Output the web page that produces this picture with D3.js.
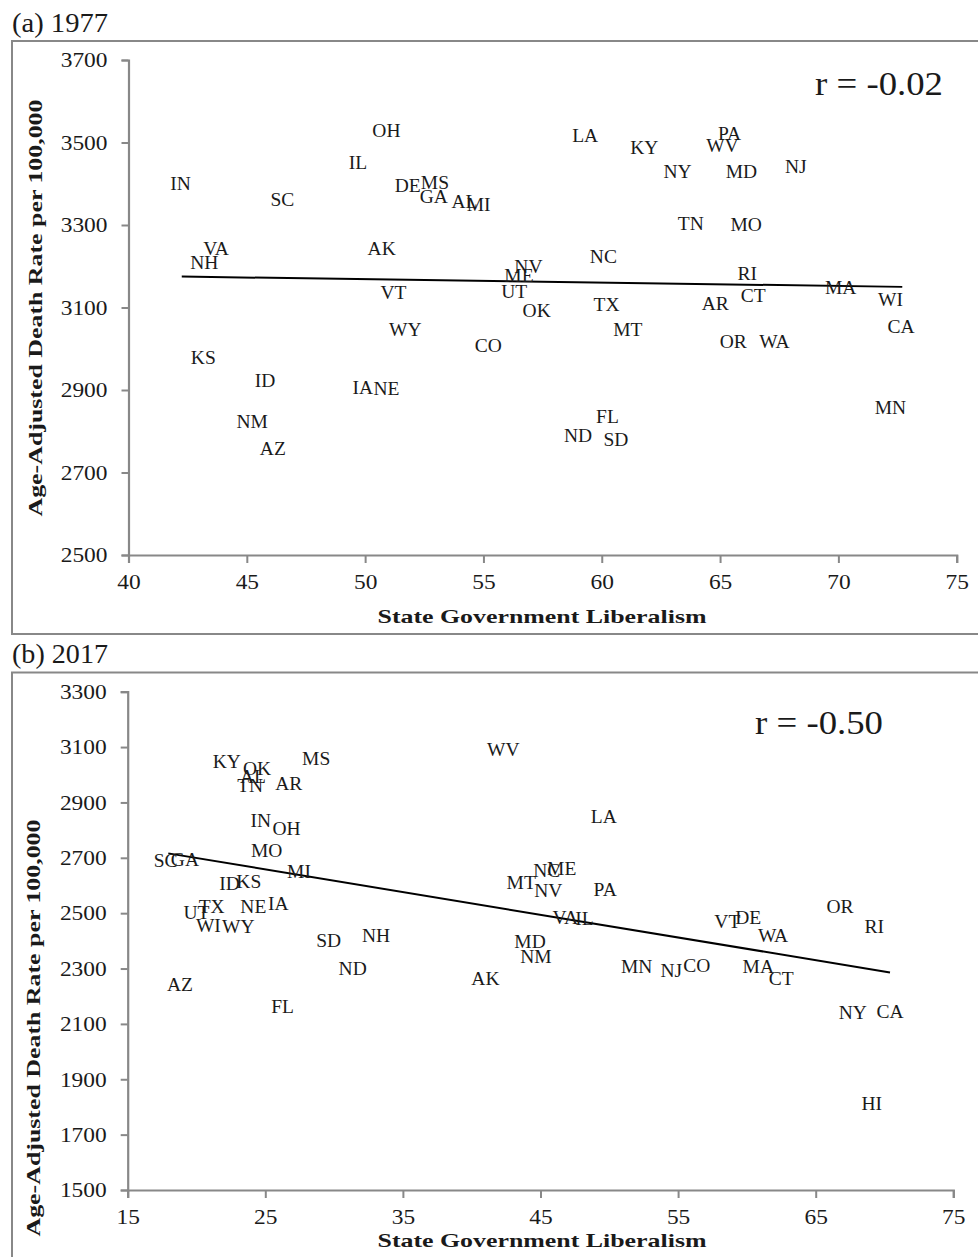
<!DOCTYPE html>
<html>
<head>
<meta charset="utf-8">
<script src="https://cdn.jsdelivr.net/npm/d3@7"></script>
<style>
  body { margin: 0; background: #fff; }
  svg { display: block; }
  text { font-family: "Liberation Serif", "Times New Roman", serif; fill: #1a1a1a; }
  .state { font-size: 19.5px; }
  .axis-title { font-size: 19.5px; font-weight: bold; }
</style>
</head>
<body>
<svg id="chart" width="978" height="1257"></svg>
<script>
// Panel (a) 1977
const states1977 = ['IN','SC','VA','NH','OH','IL','DE','MS','GA','AL','MI','AK','NV','ME','VT','UT','OK','WY','CO','IA','NE',
  'LA','NC','TX','MT','KY','PA','WV','NY','MD','NJ','TN','MO','RI','CT','AR','MA','WI','CA','OR','WA','KS','ID','NM','AZ','FL','ND','SD','MN'];
const liberalism1977 = [42.2,46.5,43.7,43.2,50.9,49.7,51.8,52.95,52.9,54.2,54.8,50.7,56.9,56.5,51.2,56.3,57.25,51.7,55.2,49.9,50.9,
  59.3,60.07,60.2,61.1,61.8,65.4,65.1,63.2,65.9,68.2,63.76,66.1,66.15,66.4,64.8,70.1,72.2,72.65,65.56,67.3,43.16,45.77,45.23,46.1,60.24,59.0,60.6,72.2];
const deaths1977 = [3402,3363,3244,3210,3530,3453,3395,3403,3370,3358,3350,3243,3199,3179,3136,3138,3092,3047,3007,2906,2904,
  3518,3223,3108,3047,3487,3522,3492,3431,3431,3443,3304,3302,3183,3130,3110,3150,3120,3055,3017,3019,2978,2923,2823,2759,2835,2791,2780,2857];
const trend1977 = [[42.25, 3175], [72.7, 3150]];
const xTicks1977 = [40,45,50,55,60,65,70,75];
const yTicks1977 = [2500,2700,2900,3100,3300,3500,3700];

// Panel (b) 2017
const states2017 = ['KY','OK','AL','TN','AR','MS','IN','OH','MO','SC','GA','MI','ID','KS','TX','UT','NE','IA','WI','WY','SD','NH','ND',
  'WV','LA','NC','ME','MT','NV','PA','VA','IL','MD','NM','AK','MN','NJ','CO','MA','CT','NY','CA','HI','AZ','FL','VT','DE','WA','OR','RI'];
const liberalism2017 = [22.2,24.4,24.1,23.9,26.7,28.7,24.67,26.55,25.1,17.76,19.16,27.45,22.4,23.8,21.1,20.0,24.13,25.94,20.86,23.04,29.6,33.05,31.35,
  42.3,49.6,45.45,46.54,43.6,45.57,49.7,46.8,48.2,44.24,44.67,41.0,51.99,54.5,56.35,60.83,62.5,67.7,70.4,69.07,18.8,26.26,58.58,60.1,61.9,66.77,69.26];
const deaths2017 = [3047,3023,2993,2963,2969,3060,2837,2807,2728,2692,2695,2652,2608,2616,2526,2502,2526,2536,2457,2454,2403,2418,2301,
  3092,2849,2656,2662,2610,2584,2586,2484,2482,2397,2345,2265,2307,2295,2313,2307,2265,2140,2144,1813,2243,2162,2469,2484,2418,2526,2451];
const trend2017 = [[17.95, 2716], [70.4, 2286]];
const xTicks2017 = [15,25,35,45,55,65,75];
const yTicks2017 = [1500,1700,1900,2100,2300,2500,2700,2900,3100,3300];

const svg = d3.select('#chart');
const axisColor = '#888';

function drawPanel(cfg) {
  const g = svg.append('g');

  // frame (runs past the right edge like the original crop)
  g.append('rect')
    .attr('x', cfg.frame[0]).attr('y', cfg.frame[1])
    .attr('width', cfg.frame[2]).attr('height', cfg.frame[3])
    .attr('fill', 'none').attr('stroke', axisColor).attr('stroke-width', 2);

  g.append('text')
    .attr('x', 12).attr('y', cfg.titleY)
    .attr('textLength', 96).attr('lengthAdjust', 'spacingAndGlyphs')
    .style('font-size', '27px')
    .text(cfg.title);

  const x = d3.scaleLinear().domain(cfg.xDomain).range(cfg.xRange);
  const y = d3.scaleLinear().domain(cfg.yDomain).range(cfg.yRange);

  // y axis
  const yAxis = g.append('g')
    .attr('transform', `translate(${cfg.xRange[0]},0)`)
    .call(d3.axisLeft(y).tickValues(cfg.yTicks).tickSize(7).tickPadding(14).tickFormat(d3.format('d')));
  // x axis
  const xAxis = g.append('g')
    .attr('transform', `translate(0,${cfg.yRange[0]})`)
    .call(d3.axisBottom(x).tickValues(cfg.xTicks).tickSize(8).tickPadding(11).tickFormat(d3.format('d')));

  [yAxis, xAxis].forEach(ax => {
    ax.select('.domain').attr('stroke', axisColor).attr('stroke-width', 2.2);
    ax.selectAll('.tick line').attr('stroke', axisColor).attr('stroke-width', 2);
    ax.selectAll('.tick text').attr('fill', '#3a3a3a')
      .attr('textLength', d => String(d).length * 11.7).attr('lengthAdjust', 'spacingAndGlyphs')
      .style('font-family', '"Liberation Serif", serif').style('font-size', '21px');
  });

  // trend line
  g.append('line')
    .attr('x1', x(cfg.trend[0][0])).attr('y1', y(cfg.trend[0][1]))
    .attr('x2', x(cfg.trend[1][0])).attr('y2', y(cfg.trend[1][1]))
    .attr('stroke', '#000').attr('stroke-width', 2);

  // state labels
  g.append('g').selectAll('text')
    .data(cfg.states)
    .join('text')
    .attr('class', 'state')
    .attr('x', (d, i) => x(cfg.xs[i]))
    .attr('y', (d, i) => y(cfg.ys[i]))
    .attr('dy', '0.34em')
    .attr('text-anchor', 'middle')
    .text(d => d);

  // r annotation
  g.append('text')
    .attr('x', cfg.rPos[0]).attr('y', cfg.rPos[1])
    .attr('textLength', 128).attr('lengthAdjust', 'spacingAndGlyphs')
    .style('font-size', '33px')
    .text(cfg.rText);

  // axis titles
  g.append('text')
    .attr('class', 'axis-title')
    .attr('x', 542).attr('y', cfg.xTitleY)
    .attr('text-anchor', 'middle')
    .attr('textLength', 329).attr('lengthAdjust', 'spacingAndGlyphs')
    .text('State Government Liberalism');

  g.append('text')
    .attr('class', 'axis-title')
    .attr('transform', `translate(${cfg.yTitle[0]},${cfg.yTitle[1]}) rotate(-90)`)
    .attr('text-anchor', 'middle')
    .attr('textLength', 417).attr('lengthAdjust', 'spacingAndGlyphs')
    .text('Age-Adjusted Death Rate per 100,000');
}

drawPanel({
  title: '(a) 1977', titleY: 32,
  frame: [12, 41, 1000, 593],
  xDomain: [40, 75], xRange: [128.5, 956.7],
  yDomain: [2500, 3700], yRange: [555, 60],
  xTicks: xTicks1977, yTicks: yTicks1977,
  states: states1977, xs: liberalism1977, ys: deaths1977,
  trend: trend1977,
  rText: 'r = -0.02', rPos: [815, 95],
  xTitleY: 623, yTitle: [42, 308]
});

drawPanel({
  title: '(b) 2017', titleY: 663,
  frame: [12, 672.5, 1000, 620],
  xDomain: [15, 75], xRange: [127.7, 953.3],
  yDomain: [1500, 3300], yRange: [1190, 691.7],
  xTicks: xTicks2017, yTicks: yTicks2017,
  states: states2017, xs: liberalism2017, ys: deaths2017,
  trend: trend2017,
  rText: 'r = -0.50', rPos: [755, 734],
  xTitleY: 1247, yTitle: [40, 1028]
});
</script>
</body>
</html>
